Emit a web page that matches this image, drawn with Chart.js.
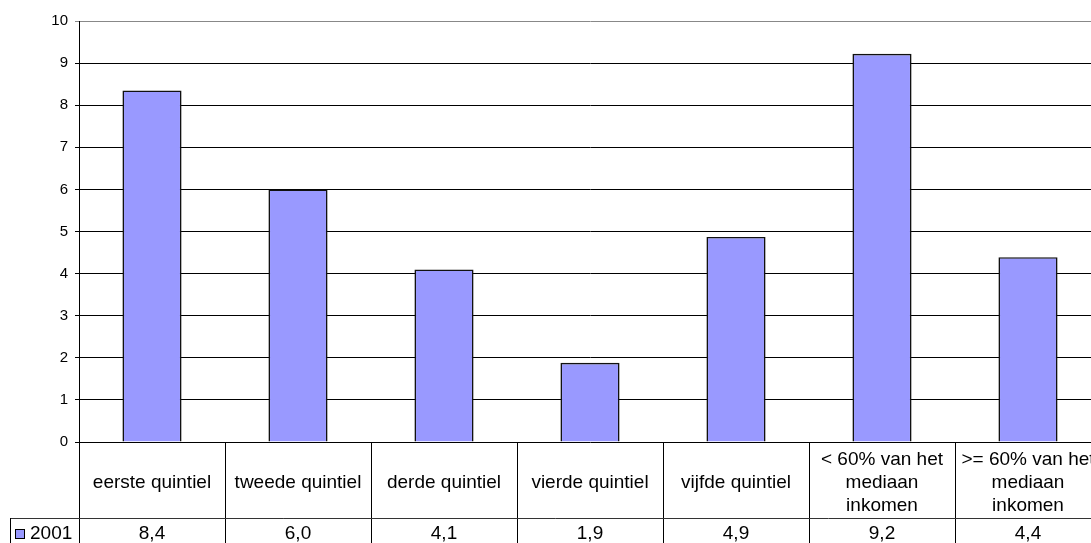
<!DOCTYPE html>
<html>
<head>
<meta charset="utf-8">
<script src="https://cdn.jsdelivr.net/npm/chart.js@4/dist/chart.umd.min.js"></script>
<style>
  html, body { margin: 0; padding: 0; background: #fff; overflow: hidden; }
  #wrap { width: 1091px; height: 543px; overflow: hidden; position: relative; }
  canvas { position: absolute; left: 0; top: 0; }
</style>
</head>
<body>
<div id="wrap"><canvas id="c" width="1101" height="543"></canvas></div>
<script>
const categories = [
  ['eerste quintiel'],
  ['tweede quintiel'],
  ['derde quintiel'],
  ['vierde quintiel'],
  ['vijfde quintiel'],
  ['< 60% van het', 'mediaan', 'inkomen'],
  ['>= 60% van het', 'mediaan', 'inkomen']
];
const seriesName = '2001';
const values2001 = [8.35, 6.0, 4.1, 1.88, 4.87, 9.22, 4.39];
const tableLabels2001 = ['8,4', '6,0', '4,1', '1,9', '4,9', '9,2', '4,4'];
const yTicks = [0, 1, 2, 3, 4, 5, 6, 7, 8, 9, 10];

const BAR_COLOR = '#9999FF';
const FONT = '"Liberation Sans", Arial, sans-serif';
const TABLE_FONT_SIZE = 19;

const dataTablePlugin = {
  id: 'dataTable',
  afterDraw(chart) {
    const ctx = chart.ctx;
    const xs = chart.scales.x;
    const ca = chart.chartArea;
    const n = categories.length;
    const cw = (xs.right - xs.left) / n;
    const top = ca.bottom;
    const rowY = top + 76;
    const bottom = chart.height;
    ctx.save();
    ctx.strokeStyle = '#000';
    ctx.lineWidth = 1;
    for (let i = 0; i <= n; i++) {
      const x = Math.round(xs.left + i * cw) + 0.5;
      ctx.beginPath();
      ctx.moveTo(x, top);
      ctx.lineTo(x, bottom);
      ctx.stroke();
    }
    ctx.strokeStyle = '#333';
    ctx.beginPath();
    ctx.moveTo(10.5, rowY + 0.5);
    ctx.lineTo(xs.right, rowY + 0.5);
    ctx.stroke();
    ctx.strokeStyle = '#000';
    ctx.beginPath();
    ctx.moveTo(10.5, rowY);
    ctx.lineTo(10.5, bottom);
    ctx.stroke();

    ctx.fillStyle = '#000';
    ctx.font = TABLE_FONT_SIZE + 'px ' + FONT;
    ctx.textAlign = 'center';
    ctx.textBaseline = 'alphabetic';
    const capOff = TABLE_FONT_SIZE * 0.358;
    const lineH = 23;
    const headCenter = top + 39;
    categories.forEach((lines, i) => {
      const cx = xs.getPixelForValue(i);
      const start = headCenter - (lines.length - 1) * lineH / 2;
      lines.forEach((ln, j) => {
        ctx.fillText(ln, cx, start + j * lineH + capOff);
      });
      ctx.fillText(tableLabels2001[i], cx, rowY + 14 + capOff);
    });
    ctx.fillStyle = BAR_COLOR;
    ctx.fillRect(15, rowY + 11, 10, 10);
    ctx.strokeStyle = '#000';
    ctx.strokeRect(15.5, rowY + 11.5, 9, 9);
    ctx.fillStyle = '#000';
    ctx.textAlign = 'left';
    ctx.fillText(seriesName, 30, rowY + 14 + capOff);
    ctx.restore();
  }
};

new Chart(document.getElementById('c'), {
  type: 'bar',
  data: {
    labels: categories,
    datasets: [{
      label: seriesName,
      data: values2001,
      backgroundColor: BAR_COLOR,
      borderColor: '#111',
      borderWidth: 1.6,
      categoryPercentage: 1.0,
      barPercentage: 0.405
    }]
  },
  options: {
    responsive: false,
    animation: false,
    devicePixelRatio: 1,
    layout: { padding: { left: 0, right: 0, top: 21, bottom: 101 } },
    plugins: { legend: { display: false }, tooltip: { enabled: false } },
    scales: {
      x: { display: false },
      y: {
        min: 0, max: 10,
        afterFit(scale) { scale.width = 79; },
        afterBuildTicks(scale) { scale.ticks = yTicks.map(v => ({ value: v })); },
        ticks: {
          color: '#000',
          font: { family: FONT, size: 15 },
          padding: 7
        },
        grid: {
          color: (c) => (c.tick && c.tick.value === 10) ? '#888' : '#000',
          lineWidth: 1,
          tickLength: 4,
          drawTicks: true
        },
        border: { display: true, color: '#000', width: 1 }
      }
    }
  },
  plugins: [dataTablePlugin]
});
</script>
</body>
</html>
